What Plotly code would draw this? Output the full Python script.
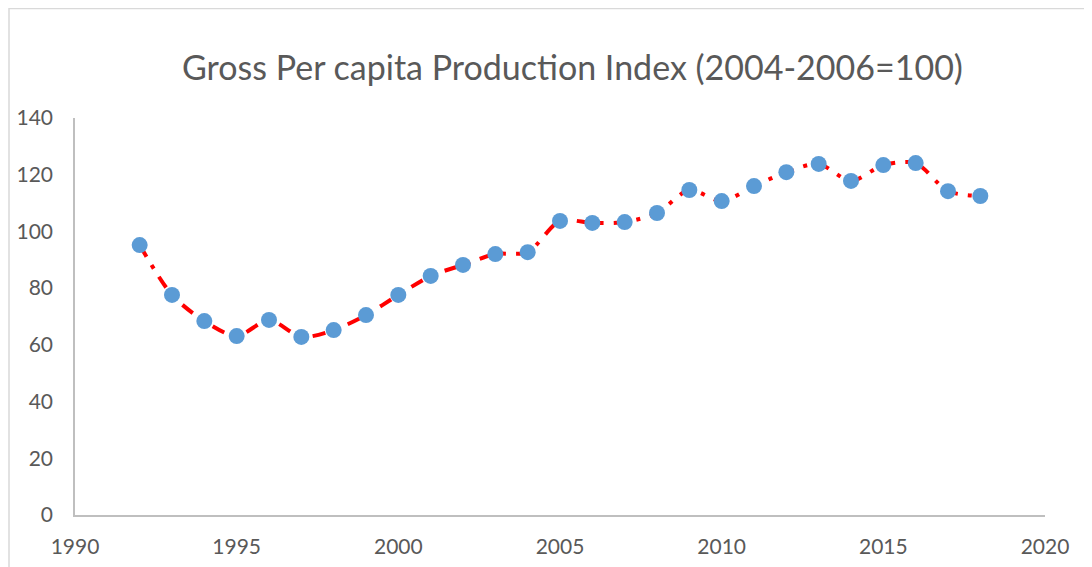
import plotly.graph_objects as go

years = list(range(1992, 2019))
index_values = [95.2, 77.6, 68.4, 63.1, 68.8, 62.8, 65.2, 70.5, 77.6, 84.3,
                88.2, 92.0, 92.7, 103.7, 103.0, 103.3, 106.5, 114.6, 110.7, 116.0,
                120.9, 123.8, 117.8, 123.4, 124.1, 114.2, 112.5]
title_text = "Gross Per capita Production Index (2004-2006=100)"

FONT = "Lato, 'Open Sans', sans-serif"
GREY = "#595959"

W, H = 1084, 559
L, T, PW, PH = 67, 110, 970, 397

fig = go.Figure()
fig.add_trace(go.Scatter(
    x=years, y=index_values, mode="lines",
    line=dict(color="#FF0000", width=4, dash="13px,10px,4px,10px", shape="spline", smoothing=0.8),
    showlegend=False, hoverinfo="skip"))
fig.add_trace(go.Scatter(
    x=years, y=index_values, mode="markers",
    marker=dict(color="#5B9BD5", size=16, line=dict(width=0)),
    showlegend=False))

fig.update_layout(
    width=W, height=H,
    margin=dict(l=L, r=W - L - PW, t=T, b=H - T - PH, autoexpand=False),
    paper_bgcolor="white", plot_bgcolor="white",
    title=dict(text=title_text, x=(572.5 - 75) / PW, xref="paper", xanchor="center",
               y=1 - 60 / H, yanchor="middle",
               font=dict(family=FONT, size=34, color=GREY)),
    font=dict(family=FONT, color=GREY),
    xaxis=dict(range=[1990, 2020], tickvals=[1990, 1995, 2000, 2005, 2010, 2015, 2020],
               showgrid=False, zeroline=False, showline=True, linecolor="#BFBFBF",
               linewidth=1.5, ticks="", ticklabelstandoff=12, automargin=False,
               tickfont=dict(family=FONT, size=21, color=GREY)),
    yaxis=dict(range=[0, 140], tickvals=[0, 20, 40, 60, 80, 100, 120, 140],
               showgrid=False, zeroline=False, showline=True, linecolor="#BFBFBF",
               linewidth=1.5, ticks="", ticklabelstandoff=16, automargin=False,
               tickfont=dict(family=FONT, size=21, color=GREY)),
    shapes=[dict(type="rect", xref="paper", yref="paper",
                 x0=(1 - L) / PW, x1=1.2, y0=-0.3, y1=(T + PH - 0.5) / PH,
                 line=dict(color="#D9D9D9", width=1.5), fillcolor="rgba(0,0,0,0)",
                 layer="below")],
)

fig.write_html("out.html")
